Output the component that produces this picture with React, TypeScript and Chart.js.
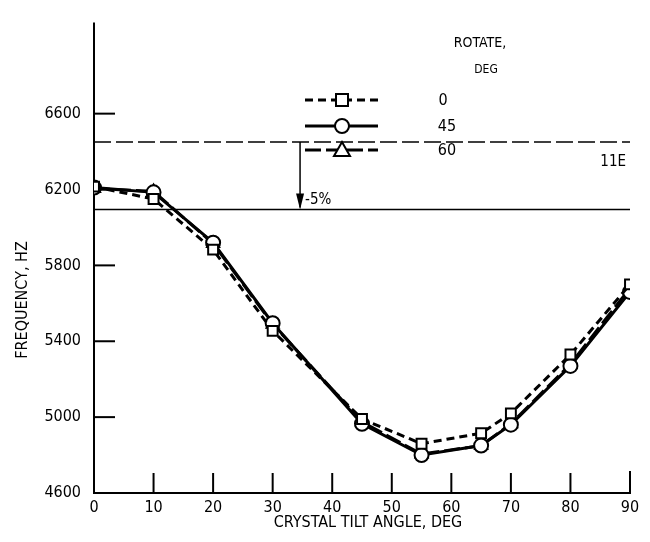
import React, { useEffect, useRef } from "react";
import { Chart, registerables } from "chart.js";

Chart.register(...registerables);

const tiltAngles = [0, 10, 20, 30, 45, 55, 65, 70, 80, 90];
const rotate0 = [6215, 6150, 5883, 5455, 4990, 4860, 4915, 5020, 5330, 5700];
const rotate45 = [6210, 6185, 5920, 5495, 4965, 4800, 4850, 4960, 5270, 5660];
const rotate60 = [6205, 6190, 5915, 5490, 4975, 4805, 4850, 4965, 5280, 5680];
const seriesLabels = ["0", "45", "60"];
const yTicks = [4600, 5000, 5400, 5800, 6200, 6600];
const xTicks = [0, 10, 20, 30, 40, 50, 60, 70, 80, 90];
const refLine11E = 6450;
const refLineMinus5 = 6095;
const arrowX = 34.6;

const FONT = "'DejaVu Sans Condensed', 'DejaVu Sans', sans-serif";

function drawMarker(ctx: CanvasRenderingContext2D, kind: string, x: number, y: number) {
  ctx.save();
  ctx.setLineDash([]);
  ctx.fillStyle = "#fff";
  ctx.strokeStyle = "#000";
  ctx.lineWidth = 2;
  ctx.beginPath();
  if (kind === "rect") {
    ctx.rect(x - 6, y - 6, 12, 12);
  } else if (kind === "circle") {
    ctx.arc(x, y, 7, 0, Math.PI * 2);
  } else {
    ctx.moveTo(x, y - 8);
    ctx.lineTo(x + 8, y + 6);
    ctx.lineTo(x - 8, y + 6);
    ctx.closePath();
  }
  ctx.fill();
  ctx.stroke();
  ctx.restore();
}

const decorPlugin = {
  id: "decor",
  beforeDatasetsDraw(chart: any) {
    const ctx = chart.ctx as CanvasRenderingContext2D;
    const xs = chart.scales.x;
    const ys = chart.scales.y;
    const left = xs.left;
    const right = xs.right;
    const bottom = ys.bottom;
    ctx.save();
    ctx.strokeStyle = "#000";
    ctx.fillStyle = "#000";
    // axes
    ctx.lineWidth = 2;
    ctx.beginPath();
    ctx.moveTo(left, ys.top);
    ctx.lineTo(left, bottom);
    ctx.lineTo(right, bottom);
    ctx.lineTo(right, bottom - 22);
    ctx.stroke();
    // inward ticks
    yTicks.forEach((v) => {
      const y = ys.getPixelForValue(v);
      ctx.beginPath();
      ctx.moveTo(left, y);
      ctx.lineTo(left + 21, y);
      ctx.stroke();
    });
    xTicks.forEach((v) => {
      const x = xs.getPixelForValue(v);
      ctx.beginPath();
      ctx.moveTo(x, bottom);
      ctx.lineTo(x, bottom - 20);
      ctx.stroke();
    });
    // reference lines
    const y11 = ys.getPixelForValue(refLine11E);
    const y5 = ys.getPixelForValue(refLineMinus5);
    ctx.lineWidth = 1.5;
    ctx.setLineDash([17, 5]);
    ctx.beginPath();
    ctx.moveTo(left, y11);
    ctx.lineTo(right, y11);
    ctx.stroke();
    ctx.setLineDash([]);
    ctx.beginPath();
    ctx.moveTo(left, y5);
    ctx.lineTo(right, y5);
    ctx.stroke();
    // arrow
    const ax = xs.getPixelForValue(arrowX);
    ctx.beginPath();
    ctx.moveTo(ax, y11);
    ctx.lineTo(ax, y5 - 2);
    ctx.stroke();
    ctx.beginPath();
    ctx.moveTo(ax, y5);
    ctx.lineTo(ax - 4, y5 - 16);
    ctx.lineTo(ax + 4, y5 - 16);
    ctx.closePath();
    ctx.fill();
    // labels
    ctx.font = `15px ${FONT}`;
    ctx.textBaseline = "middle";
    ctx.textAlign = "left";
    ctx.fillText("-5%", ax + 5, y5 - 9);
    ctx.textAlign = "right";
    ctx.fillText("11E", right - 4, y11 + 20);
    // axis titles
    ctx.font = `16px ${FONT}`;
    ctx.textAlign = "center";
    ctx.fillText("CRYSTAL TILT ANGLE, DEG", 368, 523);
    ctx.save();
    ctx.translate(23, 300);
    ctx.rotate(-Math.PI / 2);
    ctx.fillText("FREQUENCY, HZ", 0, 0);
    ctx.restore();
    // legend
    ctx.font = `14px ${FONT}`;
    ctx.textAlign = "center";
    ctx.fillText("ROTATE,", 480, 43);
    ctx.font = `12px ${FONT}`;
    ctx.fillText("DEG", 486, 70);
    const rows = [
      { y: 100, dash: [8, 5], kind: "rect", label: seriesLabels[0] },
      { y: 126, dash: [], kind: "circle", label: seriesLabels[1] },
      { y: 150, dash: [16, 5], kind: "triangle", label: seriesLabels[2] },
    ];
    rows.forEach((r) => {
      ctx.lineWidth = 3;
      ctx.setLineDash(r.dash);
      ctx.beginPath();
      ctx.moveTo(305, r.y);
      ctx.lineTo(378, r.y);
      ctx.stroke();
      drawMarker(ctx, r.kind, 342, r.y);
      ctx.font = `16px ${FONT}`;
      ctx.textAlign = "center";
      ctx.fillText(r.label, r.label.length === 1 ? 443 : 447, r.y + 1);
    });
    ctx.restore();
  },
};

export default function App() {
  const ref = useRef<HTMLCanvasElement | null>(null);
  useEffect(() => {
    if (!ref.current) return;
    const mk = (data: number[]) => data.map((v, i) => ({ x: tiltAngles[i], y: v }));
    const common = {
      borderColor: "#000",
      borderWidth: 3,
      pointBackgroundColor: "#fff",
      pointBorderColor: "#000",
      pointBorderWidth: 2,
      tension: 0,
    };
    const chart = new Chart(ref.current, {
      type: "line",
      data: {
        datasets: [
          { ...common, label: seriesLabels[0], data: mk(rotate0), borderDash: [8, 5], pointStyle: "rect", pointRadius: 7 },
          { ...common, label: seriesLabels[1], data: mk(rotate45), pointStyle: "circle", pointRadius: 7 },
          { ...common, label: seriesLabels[2], data: mk(rotate60), borderDash: [16, 5], pointStyle: "triangle", pointRadius: 7 },
        ],
      },
      options: {
        animation: false,
        responsive: false,
        maintainAspectRatio: false,
        layout: { padding: { left: 0, right: 20, top: 13, bottom: 0 } },
        plugins: { legend: { display: false }, tooltip: { enabled: false } },
        scales: {
          x: {
            type: "linear",
            min: 0,
            max: 90,
            afterBuildTicks: (s: any) => { s.ticks = xTicks.map((v) => ({ value: v })); },
            afterFit: (s: any) => { s.height = 49; },
            grid: { display: false, drawTicks: false },
            border: { display: false },
            ticks: { color: "#000", font: { family: FONT, size: 16 }, padding: 5, maxRotation: 0, callback: (v: any) => String(v) },
          },
          y: {
            type: "linear",
            min: 4600,
            max: 7080,
            afterBuildTicks: (s: any) => { s.ticks = yTicks.map((v) => ({ value: v })); },
            afterFit: (s: any) => { s.width = 94; },
            grid: { display: false, drawTicks: false },
            border: { display: false },
            ticks: { color: "#000", font: { family: FONT, size: 16 }, padding: 13, callback: (v: any) => String(v) },
          },
        },
      },
      plugins: [decorPlugin],
    });
    return () => chart.destroy();
  }, []);
  return (
    <div style={{ position: "fixed", left: 0, top: 0, width: 650, height: 542, background: "#fff" }}>
      <canvas ref={ref} width={650} height={542} style={{ width: 650, height: 542, display: "block" }} />
    </div>
  );
}
